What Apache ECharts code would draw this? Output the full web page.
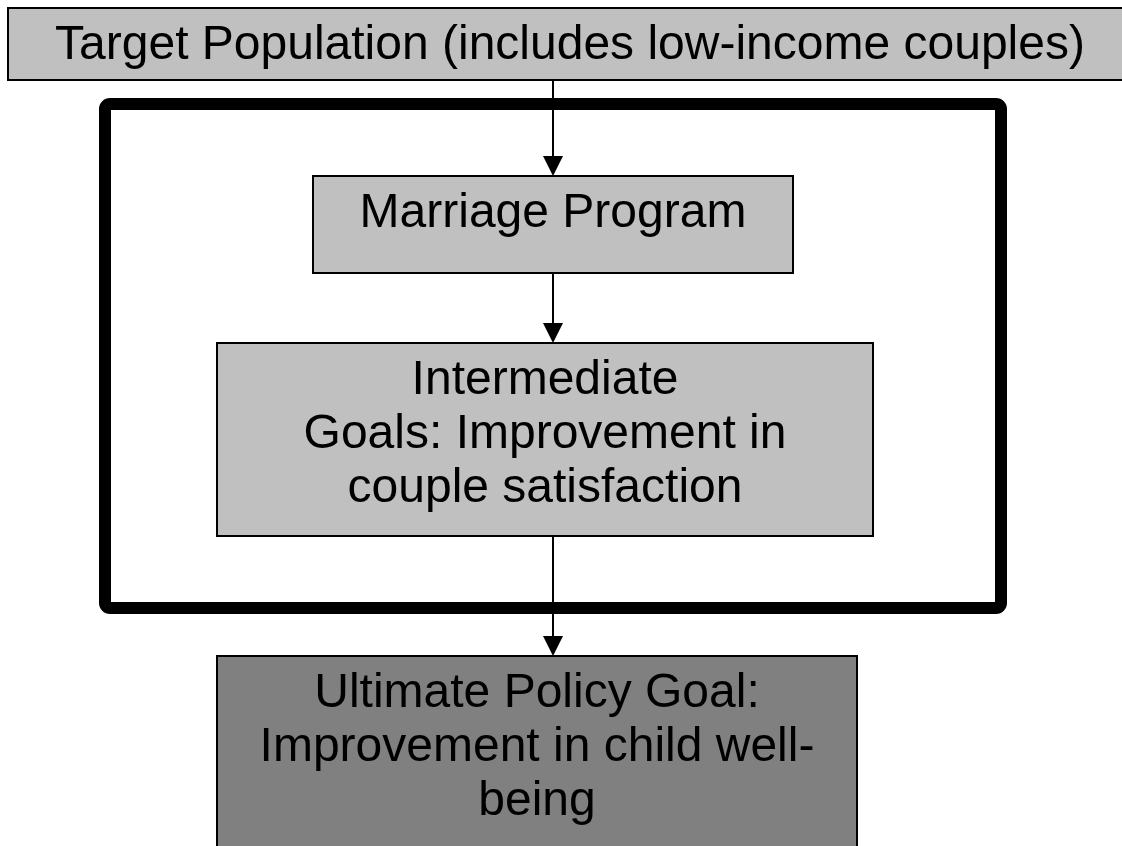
<!DOCTYPE html>
<html>
<head>
<meta charset="utf-8">
<script src="https://cdn.jsdelivr.net/npm/echarts@6/dist/echarts.min.js"></script>
<style>
html,body{margin:0;padding:0;background:#fff;}
#chart{width:1122px;height:846px;}
</style>
</head>
<body>
<div id="chart"></div>
<script>
// Flowchart nodes (data space = page pixels, y grows downward)
const boxLines = [
  ['Target Population (includes low-income couples)'],
  ['Marriage Program'],
  ['Intermediate', 'Goals: Improvement in', 'couple satisfaction'],
  ['Ultimate Policy Goal:', 'Improvement in child well-', 'being']
];
const boxLeft   = [8, 313, 217, 217];
const boxRight  = [1132, 793, 873, 857];
const boxTop    = [8, 176, 343, 656];
const boxBottom = [80, 273, 536, 900];
const boxShade  = [0, 0, 0, 1];

// Enclosing frame
const frameRect = [105, 104, 1001, 608];

// Connectors
const arrowX    = [553, 553, 553];
const arrowFrom = [80, 273, 536];
const arrowTo   = [176, 343, 656];

const fills = ['#c0c0c0', '#808080'];

const chart = echarts.init(document.getElementById('chart'), null, {renderer: 'canvas'});

const boxData = boxLeft.map((v, i) => [boxLeft[i], boxTop[i], boxRight[i], boxBottom[i], boxShade[i]]);
const arrowData = arrowX.map((v, i) => [arrowX[i], arrowFrom[i], arrowTo[i]]);

chart.setOption({
  animation: false,
  backgroundColor: '#ffffff',
  grid: {left: 0, right: 0, top: 0, bottom: 0},
  xAxis: {type: 'value', min: 0, max: 1122, show: false},
  yAxis: {type: 'value', min: 0, max: 846, inverse: true, show: false},
  series: [
    {
      type: 'custom',
      z: 2,
      clip: false,
      data: boxData,
      renderItem: function (params, api) {
        const p0 = api.coord([api.value(0), api.value(1)]);
        const p1 = api.coord([api.value(2), api.value(3)]);
        const shade = api.value(4);
        const lines = boxLines[params.dataIndex];
        const cx = (p0[0] + p1[0]) / 2;
        return {
          type: 'group',
          children: [
            {
              type: 'rect',
              shape: {x: p0[0], y: p0[1], width: p1[0] - p0[0], height: p1[1] - p0[1]},
              style: {fill: fills[shade], stroke: '#000', lineWidth: 2}
            },
            {
              type: 'text',
              style: {
                x: cx,
                y: p0[1] + 11,
                text: lines.join('\n'),
                fill: '#000',
                font: '48px "Liberation Sans", Arial, sans-serif',
                align: 'center',
                verticalAlign: 'top',
                lineHeight: 54
              }
            }
          ]
        };
      }
    },
    {
      type: 'custom',
      z: 3,
      clip: false,
      data: [frameRect],
      renderItem: function (params, api) {
        const p0 = api.coord([api.value(0), api.value(1)]);
        const p1 = api.coord([api.value(2), api.value(3)]);
        return {
          type: 'rect',
          shape: {x: p0[0], y: p0[1], width: p1[0] - p0[0], height: p1[1] - p0[1], r: 5},
          style: {fill: 'none', stroke: '#000', lineWidth: 12}
        };
      }
    },
    {
      type: 'custom',
      z: 4,
      clip: false,
      data: arrowData,
      renderItem: function (params, api) {
        const a = api.coord([api.value(0), api.value(1)]);
        const b = api.coord([api.value(0), api.value(2)]);
        const head = 20, half = 10;
        return {
          type: 'group',
          children: [
            {
              type: 'line',
              shape: {x1: a[0], y1: a[1], x2: b[0], y2: b[1] - head + 1},
              style: {stroke: '#000', lineWidth: 2}
            },
            {
              type: 'polygon',
              shape: {points: [[b[0] - half, b[1] - head], [b[0] + half, b[1] - head], [b[0], b[1]]]},
              style: {fill: '#000'}
            }
          ]
        };
      }
    }
  ]
});
</script>
</body>
</html>
